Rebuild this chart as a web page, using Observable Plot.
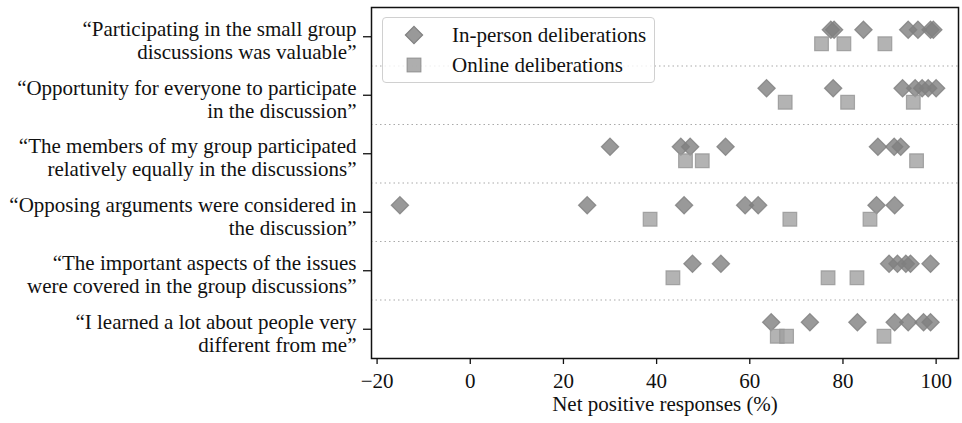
<!DOCTYPE html>
<html>
<head>
<meta charset="utf-8">
<script src="https://cdn.jsdelivr.net/npm/d3@7"></script>
<script src="https://cdn.jsdelivr.net/npm/@observablehq/plot@0.6"></script>
<style>
  html, body { margin: 0; padding: 0; background: #fff; }
  #wrap { position: relative; width: 962px; height: 423px; }
  #legend {
    position: absolute; left: 382px; top: 17px; width: 273px; height: 66px;
    box-sizing: border-box; border: 1.3px solid #d0d0d0; border-radius: 4px;
    background: rgba(255,255,255,0.8);
    font-family: 'Liberation Serif', 'Times New Roman', serif; font-size: 21px; color: #111;
  }
  #legend .item { position: absolute; left: 0; height: 30px; display: flex; align-items: center; white-space: nowrap; }
  #legend svg { margin-left: 21px; margin-right: 28px; }
</style>
</head>
<body>
<div id="wrap">
  <div id="chart"></div>
  <div id="legend">
    <div class="item" style="top:2px">
      <svg width="20" height="20" viewBox="-10 -10 20 20"><path d="M0,-8.6L8.6,0L0,8.6L-8.6,0Z" fill="#808080" fill-opacity="0.8" stroke="#808080" stroke-width="1.2"/></svg>
      <span>In-person deliberations</span>
    </div>
    <div class="item" style="top:32px">
      <svg width="20" height="20" viewBox="-10 -10 20 20"><rect x="-6.8" y="-6.8" width="13.6" height="13.6" fill="#a0a0a0" fill-opacity="0.85" stroke="#959595" stroke-width="1.2"/></svg>
      <span>Online deliberations</span>
    </div>
  </div>
</div>
<script>
const statements = [
  "“Participating in the small group\ndiscussions was valuable”",
  "“Opportunity for everyone to participate\nin the discussion”",
  "“The members of my group participated\nrelatively equally in the discussions”",
  "“Opposing arguments were considered in\nthe discussion”",
  "“The important aspects of the issues\nwere covered in the group discussions”",
  "“I learned a lot about people very\ndifferent from me”"
];

const inPersonValues = [
  [77.4, 78.1, 84.4, 94.0, 96.1, 98.8, 99.4],
  [63.6, 77.9, 92.8, 95.5, 97.0, 98.3, 100.0],
  [30.0, 45.2, 47.2, 54.8, 87.5, 91.0, 92.4],
  [-15.1, 25.1, 45.9, 59.0, 61.8, 87.2, 91.1],
  [47.7, 53.8, 89.9, 91.7, 93.5, 94.5, 98.8],
  [64.6, 72.9, 83.1, 91.1, 94.0, 97.3, 98.8]
];

const onlineValues = [
  [75.4, 80.2, 89.0],
  [67.6, 81.0, 95.1],
  [46.2, 49.8, 95.8],
  [38.6, 68.6, 85.8],
  [43.5, 76.8, 83.0],
  [65.9, 67.9, 88.8]
];

const xTicks = [-20, 0, 20, 40, 60, 80, 100];
const xLabel = "Net positive responses (%)";

const inPersonData = inPersonValues.flatMap((vals, i) => vals.map(v => ({row: i, value: v})));
const onlineData = onlineValues.flatMap((vals, i) => vals.map(v => ({row: i, value: v})));
const rowIndex = d3.range(statements.length);
const boundaries = d3.range(1, statements.length).map(i => i - 0.5);

const chart = Plot.plot({
  width: 962,
  height: 423,
  marginLeft: 371,
  marginRight: 4,
  marginTop: 7,
  marginBottom: 65,
  style: {fontFamily: "'Liberation Serif', 'Times New Roman', serif", fontSize: "21px", background: "white", color: "#111"},
  x: {domain: [-21.2, 104.8]},
  y: {domain: [statements.length - 0.5, -0.5]},
  marks: [
    Plot.ruleY(boundaries, {stroke: "#aaaaaa", strokeWidth: 1.2, strokeDasharray: "1.5,3"}),
    Plot.dot(inPersonData, {x: "value", y: "row", symbol: "diamond2", r: 7.8, fill: "#808080", fillOpacity: 0.8, stroke: "#808080", strokeOpacity: 0.8, strokeWidth: 1.2, dy: -7}),
    Plot.dot(onlineData, {x: "value", y: "row", symbol: "square", r: 7.7, fill: "#a0a0a0", fillOpacity: 0.8, stroke: "#959595", strokeOpacity: 0.8, strokeWidth: 1.2, dy: 7}),
    Plot.frame({stroke: "#111", strokeWidth: 1.5}),
    Plot.axisX({ticks: xTicks, tickSize: 6, tickPadding: 9, stroke: "#111", strokeWidth: 1.3, label: null}),
    Plot.text([xLabel], {frameAnchor: "bottom", dy: 52, fill: "#111"}),
    Plot.axisY({ticks: rowIndex, tickFormat: () => "", tickSize: 8, stroke: "#111", strokeWidth: 1.3, label: null}),
    Plot.text(rowIndex, {y: d => d, frameAnchor: "left", text: i => statements[i], textAnchor: "end", dx: -15, dy: 3.5, lineHeight: 1.1, fill: "#111"})
  ]
});
document.getElementById("chart").appendChild(chart);
</script>
</body>
</html>
